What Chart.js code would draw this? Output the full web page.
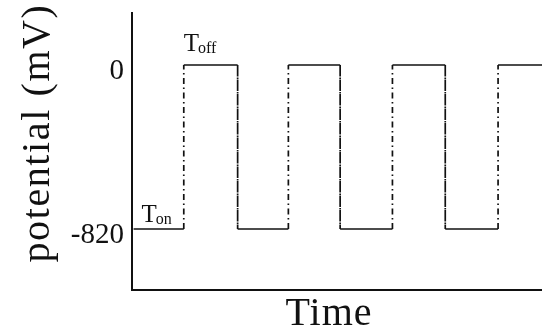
<!DOCTYPE html>
<html>
<head>
<meta charset="utf-8">
<script src="https://cdn.jsdelivr.net/npm/chart.js@4"></script>
<style>
  body { margin: 0; background: #fff; }
</style>
</head>
<body>
<canvas id="pulseChart" width="542" height="330"></canvas>
<script>
// potential levels (mV) and the tick labels shown for them
var levelValues = [0, -820];
var levelLabels = ['0', '-820'];
var highLevel = 0;
var lowLevel = -820;

// switching instants (arbitrary time units), alternating rise / fall
var edgeTimes = [0.99, 2.02, 2.99, 3.98, 4.98, 5.99, 7.0];
var startTime = 0.03;
var endTime = 7.9;

var xTitle = 'Time';
var yTitle = 'potential (mV)';

// build the square wave as a list of points
var points = [{ x: startTime, y: lowLevel }];
var level = lowLevel;
edgeTimes.forEach(function(t) {
  var next = level === lowLevel ? highLevel : lowLevel;
  points.push({ x: t, y: level });
  points.push({ x: t, y: next });
  level = next;
});
points.push({ x: endTime, y: level });

var serif = '"Liberation Serif", "Times New Roman", serif';

var labelsPlugin = {
  id: 'labels',
  afterDraw: function(chart) {
    var ctx = chart.ctx;
    var xs = chart.scales.x, ys = chart.scales.y;
    ctx.save();
    ctx.fillStyle = '#111';

    // axis titles
    ctx.font = '40px ' + serif;
    ctx.textAlign = 'center';
    ctx.textBaseline = 'alphabetic';
    ctx.letterSpacing = '1px';
    ctx.fillText(xTitle, 329, 325);

    ctx.save();
    ctx.translate(49, 133);
    ctx.rotate(-Math.PI / 2);
    ctx.letterSpacing = '1.6px';
    ctx.fillText(yTitle, 0, 0);
    ctx.restore();

    // T_on / T_off annotations
    ctx.letterSpacing = '0px';
    ctx.textAlign = 'left';
    function sub(main, small, x, y) {
      ctx.font = '25px ' + serif;
      ctx.fillText(main, x, y);
      var w = ctx.measureText(main).width;
      ctx.font = '16px ' + serif;
      ctx.fillText(small, x + w - 1, y + 2);
    }
    sub('T', 'on', xs.getPixelForValue(startTime) + 8, ys.getPixelForValue(lowLevel) - 7);
    sub('T', 'off', xs.getPixelForValue(edgeTimes[0]), ys.getPixelForValue(highLevel) - 14);
    ctx.restore();
  }
};

var ctx = document.getElementById('pulseChart').getContext('2d');
var pulseChart = new Chart(ctx, {
  type: 'line',
  data: {
    datasets: [{
      data: points,
      borderColor: '#111',
      borderWidth: 1.7,
      pointRadius: 0,
      fill: false,
      tension: 0,
      segment: {
        borderDash: function(c) {
          return c.p0.parsed.x === c.p1.parsed.x ? [6, 3.5, 1.5, 3.5] : undefined;
        }
      }
    }]
  },
  options: {
    responsive: false,
    animation: false,
    devicePixelRatio: 1,
    layout: { padding: { top: 13, right: 0, left: 0, bottom: 0 } },
    plugins: {
      legend: { display: false },
      tooltip: { enabled: false }
    },
    scales: {
      x: {
        type: 'linear',
        min: 0,
        max: 7.84,
        grid: { display: false, drawTicks: false },
        border: { display: true, color: '#111', width: 2 },
        ticks: { display: false },
        afterFit: function(scale) {
          scale.height = 40;
          scale.paddingLeft = 0;
          scale.paddingRight = 0;
        }
      },
      y: {
        type: 'linear',
        min: -1125,
        max: 260,
        grid: { display: false, drawTicks: false },
        border: { display: true, color: '#111', width: 2 },
        afterBuildTicks: function(scale) {
          scale.ticks = levelValues.map(function(v) { return { value: v }; });
        },
        ticks: {
          color: '#111',
          font: { family: serif, size: 29 },
          padding: 8,
          labelOffset: 6,
          callback: function(value) {
            var i = levelValues.indexOf(value);
            return i >= 0 ? levelLabels[i] : '';
          }
        },
        afterFit: function(scale) {
          scale.width = 132;
          scale.paddingTop = 0;
          scale.paddingBottom = 0;
        }
      }
    }
  },
  plugins: [labelsPlugin]
});
</script>
</body>
</html>
